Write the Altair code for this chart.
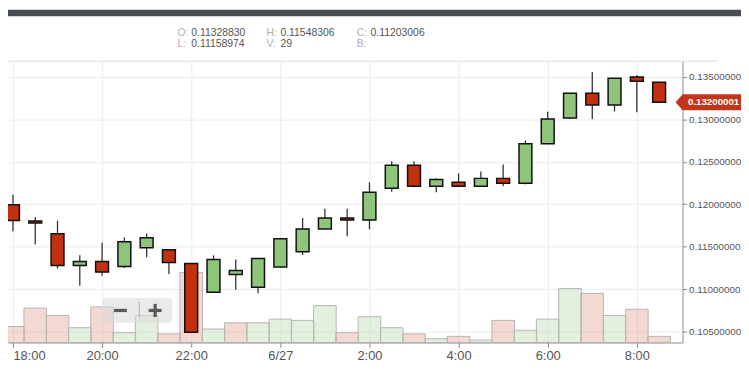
import altair as alt
import pandas as pd

# ---------------- data ----------------
slots = list(range(30))  # half-hour candles from 18:00 (6/26) to 08:30 (6/27)
opens = [0.11994, 0.11804, 0.11653, 0.11280, 0.11328830, 0.11269, 0.11490, 0.11467, 0.11304, 0.10966,
         0.11176, 0.11024, 0.11264, 0.11443, 0.11711, 0.11839, 0.11816, 0.12189, 0.12460, 0.12212,
         0.12259, 0.12212, 0.12305, 0.12247, 0.12713, 0.13016, 0.13307, 0.13167, 0.13497, 0.13435]
highs = [0.12111, 0.11851, 0.11808, 0.11400, 0.11548306, 0.11610, 0.11656, 0.11470, 0.11304, 0.11400,
         0.11350, 0.11370, 0.11606, 0.11839, 0.11948, 0.11948, 0.12259, 0.12507, 0.12507, 0.12305,
         0.12363, 0.12387, 0.12468, 0.12751, 0.13089, 0.13307, 0.13555, 0.13481, 0.13516, 0.13435]
lows = [0.11683, 0.11528, 0.11245, 0.11043, 0.11158974, 0.11252, 0.11377, 0.11182, 0.10495, 0.10966,
        0.10996, 0.10954, 0.11257, 0.11404, 0.11711, 0.11625, 0.11707, 0.12149, 0.12200, 0.12142,
        0.12212, 0.12212, 0.12212, 0.12235, 0.12713, 0.13004, 0.13004, 0.13092, 0.13081, 0.13200001]
closes = [0.11811, 0.11781, 0.11280, 0.11327, 0.11203006, 0.11560, 0.11606, 0.11315, 0.10495, 0.11350,
          0.11222, 0.11362, 0.11595, 0.11711, 0.11839, 0.11816, 0.12142, 0.12460, 0.12212, 0.12293,
          0.12212, 0.12305, 0.12247, 0.12713, 0.13004, 0.13307, 0.13167, 0.13481, 0.13446, 0.13200001]
volumes = [13, 28, 22, 12, 29, 8, 22, 7, 57, 11, 16, 16, 19, 18, 30, 8, 21, 12, 7, 3,
           5, 2, 18, 10, 19, 44, 40, 22, 27, 5]

time_tick_slots = [0, 4, 8, 12, 16, 20, 24, 28]
time_tick_labels = ["18:00", "20:00", "22:00", "6/27", "2:00", "4:00", "6:00", "8:00"]
price_ticks = [0.105, 0.110, 0.115, 0.120, 0.125, 0.130, 0.135]
header_labels = ["O:", "H:", "C:", "L:", "V:", "B:"]
header_values = ["0.11328830", "0.11548306", "0.11203006", "0.11158974", "29", ""]
last_price_text = "0.13200001"

# ---------------- table ----------------
df = pd.DataFrame({"slot": slots, "open": opens, "high": highs, "low": lows,
                   "close": closes, "volume": volumes})
vol_up = []
for i in range(len(closes)):
    ref = closes[i - 1] if i > 0 else opens[i]
    vol_up.append(1 if closes[i] >= ref else 0)
df["vol_up"] = vol_up
df["up"] = [1 if c >= o else 0 for o, c in zip(opens, closes)]

RED = "#c1300f"
GREEN = "#8fc47b"
FONT = "Liberation Sans, Arial"

label_lookup = "{" + ",".join("'%d':'%s'" % (s, l) for s, l in zip(time_tick_slots, time_tick_labels)) + "}"
x_scale = alt.Scale(domain=[0, 29.83], nice=False, zero=False)
x_axis = alt.Axis(title=None, values=time_tick_slots,
                  labelExpr=label_lookup + "[''+datum.value]",
                  labelFlush=5, labelOverlap=False, grid=True, gridColor="#ececec",
                  domainColor="#8a8a8a", tickColor="#8a8a8a", tickSize=5,
                  labelColor="#555555", labelFont=FONT, labelFontSize=13, labelPadding=2)
x_enc = alt.X("slot:Q", scale=x_scale, axis=x_axis)

p_scale = alt.Scale(domain=[0.103754, 0.136828], nice=False, zero=False)
y_axis = alt.Axis(title=None, orient="right", values=price_ticks, format=".8f", grid=True,
                  gridColor="#ececec", domainColor="#8a8a8a", tickColor="#8a8a8a", tickSize=4,
                  labelColor="#555555", labelFont=FONT, labelFontSize=10,
                  labelPadding=2)


def py(field):
    return alt.Y(field, scale=p_scale, axis=y_axis)


vol = alt.Chart(df).mark_bar(width=22.83, stroke="#b5b5b5", strokeWidth=1, fillOpacity=0.45).encode(
    x=x_enc,
    y=alt.Y("volume:Q", scale=alt.Scale(domain=[0, 229], nice=False, zero=True), axis=None),
    fill=alt.condition("datum.vol_up == 1", alt.value("#c3deb8"), alt.value("#e6a99c")),
)

wick = alt.Chart(df).mark_rule(color="#333333", strokeWidth=1.3).encode(
    x=x_enc, y=py("low:Q"), y2="high:Q")

body = alt.Chart(df).mark_bar(width=13, stroke="#111111", strokeWidth=1.5).encode(
    x=x_enc, y=py("open:Q"), y2="close:Q",
    fill=alt.condition("datum.up == 1", alt.value(GREEN), alt.value(RED)),
)

last_df = pd.DataFrame({"p": [closes[-1]], "t": [last_price_text]})
tag = alt.Chart(last_df).mark_point(
    shape="M-1,0L-0.79,-0.24L1,-0.24L1,0.24L-0.79,0.24Z",
    size=4489, filled=True, color="#c1361a", opacity=1, clip=False
).encode(x=alt.value(707.5), y=py("p:Q"))
tag_text = alt.Chart(last_df).mark_text(
    align="left", baseline="middle", color="white", fontWeight="bold", fontSize=9.8,
    font=FONT, clip=False
).encode(x=alt.value(686.5), y=py("p:Q"), text="t:N")

one = pd.DataFrame({"k": [0]})


def rect(x1, x2, y1, y2, **kw):
    return alt.Chart(one).mark_rect(clip=False, **kw).encode(
        x=alt.value(x1), x2=alt.value(x2), y=alt.value(y1), y2=alt.value(y2))


def txt(s, x, y, **kw):
    return alt.Chart(pd.DataFrame({"s": [s]})).mark_text(
        align="left", baseline="alphabetic", clip=False, **kw).encode(
        x=alt.value(x), y=alt.value(y), text="s:N")


deco = []
# dark top bar
deco.append(rect(-10, 745, -52, -45.3, color="#474d52"))
# top border line of the plot region
deco.append(alt.Chart(one).mark_rule(color="#dddddd", strokeWidth=1, clip=False).encode(
    x=alt.value(0), x2=alt.value(717), y=alt.value(0)))
# header OHLC texts
label_x = [171, 261, 352]
value_x = [185, 275, 366]
row_y = [-25.7, -14.3]
for i, (lab, val) in enumerate(zip(header_labels, header_values)):
    r, c = divmod(i, 3)
    deco.append(txt(lab, label_x[c], row_y[r], color="#b0b0b0", font=FONT, fontSize=10.5))
    if val:
        deco.append(txt(val, value_x[c], row_y[r], color="#555555", font=FONT, fontSize=10.5))
# zoom control overlay
deco.append(rect(95, 166, 239, 264, color="#dcdcdc", opacity=0.6, cornerRadius=4))
deco.append(rect(107, 120, 250, 253.3, color="#5a5a5a"))
deco.append(rect(142, 155, 250, 253.3, color="#5a5a5a"))
deco.append(rect(146.9, 150.2, 245, 258.3, color="#5a5a5a"))
deco.append(alt.Chart(one).mark_rule(color="#b0b0b0", strokeWidth=1, clip=False).encode(
    x=alt.value(132.5), y=alt.value(243), y2=alt.value(259)))

price = alt.layer(wick, body, tag, tag_text, *deco)

chart = alt.layer(vol, price).resolve_scale(y="independent").properties(
    width=681, height=284,
    padding={"left": 0, "top": 52, "right": 59, "bottom": 18},
    autosize=alt.AutoSizeParams(type="none"),
    background="white",
).configure_view(stroke=None)

chart.save("out.html", embed_options={"renderer": "svg", "actions": False})
